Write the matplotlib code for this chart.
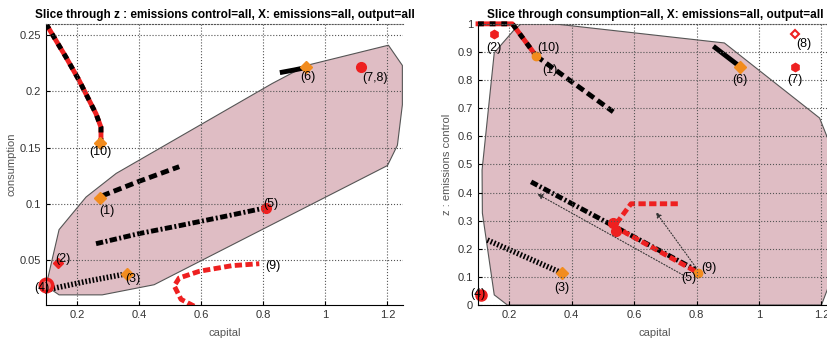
import numpy as np
import matplotlib.pyplot as plt

plt.rcParams['font.family'] = ['Liberation Sans', 'DejaVu Sans']

# ---- left panel: capital vs consumption ----
poly1_x = [1.203, 1.248, 1.248, 1.232, 1.200, 0.448, 0.281, 0.142, 0.100, 0.142, 0.229, 0.326, 0.829, 0.939]
poly1_y = [0.241, 0.223, 0.188, 0.152, 0.134, 0.028, 0.019, 0.019, 0.027, 0.077, 0.106, 0.127, 0.207, 0.223]

l10_x = [0.100, 0.165, 0.206, 0.261, 0.277, 0.277]
l10_y = [0.260, 0.230, 0.210, 0.180, 0.168, 0.157]
l1_x = [0.280, 0.400, 0.529]
l1_y = [0.107, 0.120, 0.133]
l5_x = [0.261, 0.400, 0.529, 0.680, 0.800]
l5_y = [0.0645, 0.0735, 0.0805, 0.0890, 0.0960]
l3_x = [0.105, 0.116, 0.230, 0.345]
l3_y = [0.027, 0.0243, 0.031, 0.037]
l9_x = [0.577, 0.535, 0.513, 0.529, 0.594, 0.700, 0.787]
l9_y = [0.009, 0.015, 0.027, 0.034, 0.040, 0.045, 0.0467]
l6_x = [0.861, 0.900, 0.935]
l6_y = [0.217, 0.219, 0.221]

# points (x, y) and labels
orange1 = {'(10)': (0.274, 0.154), '(1)': (0.274, 0.1055), '(3)': (0.361, 0.0377), '(6)': (0.939, 0.2216)}
red1 = {'(5)': (0.810, 0.0966), '(2)': (0.139, 0.0475), '(7,8)': (1.116, 0.2216)}
lab1 = {'(10)': (0.275, 0.146), '(1)': (0.295, 0.094), '(3)': (0.38, 0.033), '(6)': (0.945, 0.213),
        '(5)': (0.825, 0.1), '(2)': (0.155, 0.051), '(7,8)': (1.16, 0.212), '(4)': (0.085, 0.025),
        '(9)': (0.83, 0.0445)}

# ---- right panel: capital vs z : emissions control ----
poly2_x = [0.238, 0.343, 0.889, 1.194, 1.222, 1.26, 1.26, 1.222, 1.200, 0.194, 0.152, 0.114, 0.113, 0.152, 0.216]
poly2_y = [1.000, 1.000, 0.932, 0.665, 0.587, 0.45, 0.10, 0.064, 0.000, 0.000, 0.036, 0.327, 0.480, 0.897, 0.979]

r10_x = [0.100, 0.210, 0.286]
r10_y = [1.000, 1.000, 0.886]
r1_x = [0.286, 0.533]
r1_y = [0.886, 0.687]
r6_x = [0.860, 0.940]
r6_y = [0.915, 0.847]
r5_x = [0.270, 0.797]
r5_y = [0.438, 0.125]
r9_x = [0.740, 0.590, 0.550, 0.535, 0.806]
r9_y = [0.360, 0.360, 0.300, 0.280, 0.114]
r3_x = [0.130, 0.368]
r3_y = [0.231, 0.114]
arr_start = [(0.756, 0.107), (0.797, 0.135)]
arr_end = [(0.290, 0.395), (0.670, 0.330)]

orange2 = {'(10)': (0.286, 0.886), '(6)': (0.940, 0.847), '(3)': (0.368, 0.114), '(9)': (0.806, 0.114)}
lab2 = {'(2)': (0.152, 0.915), '(10)': (0.325, 0.915), '(1)': (0.33, 0.835), '(6)': (0.94, 0.8),
        '(8)': (1.145, 0.93), '(7)': (1.114, 0.8), '(3)': (0.37, 0.06), '(5)': (0.775, 0.095),
        '(9)': (0.84, 0.13), '(4)': (0.1, 0.04)}

fill_col = '#dfbdc4'
orange = '#f28c1e'
red = '#ee2020'
dash = (0, (1.7, 0.9))
dashdot = (0, (1.5, 0.5, 0.4, 0.5))
comb = (0, (0.3, 0.35))
rdash = (0, (1.5, 0.7))
alt = (0, (1.2, 1.2))

fig = plt.figure(figsize=(8.28, 3.41), dpi=100)
ax1 = fig.add_axes([0.0556, 0.1056, 0.4311, 0.8245])
ax2 = fig.add_axes([0.5773, 0.1056, 0.428, 0.8245])

for ax in (ax1, ax2):
    ax.grid(True, ls=':', color='#555555', lw=0.8)
    ax.set_axisbelow(False)
    ax.spines['right'].set_visible(False)
    ax.spines['top'].set_linestyle(':')
    ax.spines['top'].set_color('#555555')
    ax.spines['top'].set_linewidth(0.8)
    ax.tick_params(labelsize=8, labelcolor='#333333', direction='in', length=3)
    ax.set_xticks([0.2, 0.4, 0.6, 0.8, 1.0, 1.2])
    ax.set_xticklabels(['0.2', '0.4', '0.6', '0.8', '1', '1.2'])
    ax.set_xlabel('capital', fontsize=8, color='#555555', labelpad=6)

# left
ax1.fill(poly1_x, poly1_y, facecolor=fill_col, edgecolor='#555555', lw=0.8, zorder=0.5)
ax1.plot(l10_x, l10_y, color=red, lw=3.5, solid_capstyle='butt')
ax1.plot(l10_x, l10_y, color='k', lw=3.5, ls=alt)
ax1.plot(l1_x, l1_y, color='k', lw=3.5, ls=dash)
ax1.plot(l5_x, l5_y, color='k', lw=3.5, ls=dashdot)
ax1.plot(l3_x, l3_y, color='k', lw=4, ls=comb)
ax1.plot(l9_x, l9_y, color=red, lw=3.5, ls=rdash)
ax1.plot(l6_x, l6_y, color='k', lw=3.5)
for k, (x, y) in orange1.items():
    ax1.plot(x, y, 'D', color=orange, ms=6, mec=orange)
for k, (x, y) in red1.items():
    ax1.plot(x, y, 'o' if k != '(2)' else 'D', color=red, ms=7 if k != '(2)' else 5)
ax1.plot(0.1, 0.0279, 'o', ms=9, mfc='#f07a7a', mec=red, mew=2.5, clip_on=False)
for k, (x, y) in lab1.items():
    ax1.text(x, y, k, fontsize=9, ha='center', va='center', color='k')
ax1.set_xlim(0.1, 1.25)
ax1.set_ylim(0.01, 0.26)
ax1.set_yticks([0.05, 0.1, 0.15, 0.2, 0.25])
ax1.set_yticklabels(['0.05', '0.1', '0.15', '0.2', '0.25'])
ax1.set_ylabel('consumption', fontsize=8, color='#555555', labelpad=2)
ax1.set_title('Slice through z : emissions control=all, X: emissions=all, output=all',
              fontsize=8.5, fontweight='bold', pad=4)

# right
ax2.fill(poly2_x, poly2_y, facecolor=fill_col, edgecolor='#555555', lw=0.8, zorder=0.5)
ax2.plot(r10_x, r10_y, color=red, lw=3.5, clip_on=False)
ax2.plot(r10_x, r10_y, color='k', lw=3.5, ls=alt, clip_on=False)
ax2.plot(r1_x, r1_y, color='k', lw=3.5, ls=dash)
ax2.plot(r6_x, r6_y, color='k', lw=3.5)
ax2.plot(r5_x, r5_y, color='k', lw=3.5, ls=dashdot)
ax2.plot(r9_x, r9_y, color=red, lw=3.5, ls=rdash)
ax2.plot(r3_x, r3_y, color='k', lw=4, ls=comb)
for (x0, y0), (x1, y1) in zip(arr_start, arr_end):
    ax2.annotate('', xy=(x1, y1), xytext=(x0, y0),
                 arrowprops=dict(arrowstyle='-|>', ls=':', lw=0.8, color='#333333',
                                 mutation_scale=8, shrinkA=0, shrinkB=0))
ax2.plot([0.533, 0.543], [0.292, 0.262], 'o', color=red, ms=7)
for k, (x, y) in orange2.items():
    ax2.plot(x, y, 'o' if k in ('(10)', '(9)') else 'D', color=orange, ms=6)
ax2.plot(0.152, 0.964, 'h', color=red, ms=6)
ax2.plot(1.114, 0.847, 'h', color=red, ms=6)
ax2.plot(1.114, 0.964, 'D', mfc='white', mec=red, mew=1.5, ms=4)
ax2.plot(0.108, 0.036, 'o', color=red, ms=8, clip_on=False)
for k, (x, y) in lab2.items():
    ax2.text(x, y, k, fontsize=9, ha='center', va='center', color='k')
ax2.set_xlim(0.1, 1.235)
ax2.set_ylim(0, 1)
ax2.set_yticks(np.arange(0, 1.01, 0.1))
ax2.set_yticklabels(['0', '0.1', '0.2', '0.3', '0.4', '0.5', '0.6', '0.7', '0.8', '0.9', '1'])
ax2.set_ylabel('z : emissions control', fontsize=8, color='#555555', labelpad=4)
ax2.set_title('Slice through consumption=all, X: emissions=all, output=all',
              fontsize=8.5, fontweight='bold', pad=4)

fig.savefig('out.png', dpi=100)
